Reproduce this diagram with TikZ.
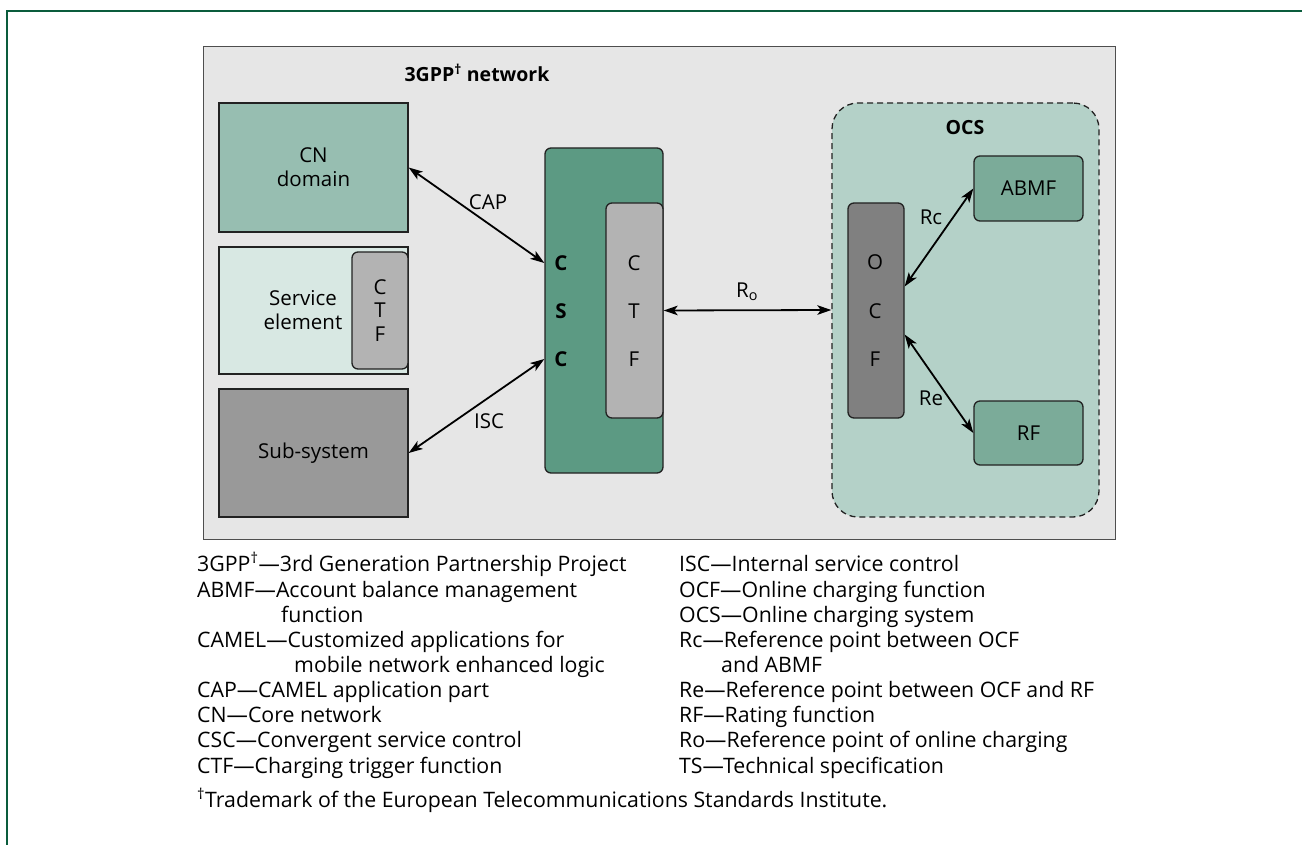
\documentclass[tikz,border=0pt]{standalone}
\usepackage{fontspec}
\setmainfont{Open Sans}
\usetikzlibrary{arrows.meta}
\definecolor{framegreen}{HTML}{0A5C3C}
\definecolor{panelgray}{HTML}{E6E6E6}
\definecolor{cnfill}{HTML}{97BEB1}
\definecolor{sefill}{HTML}{D8E8E3}
\definecolor{ctffill}{HTML}{B3B3B3}
\definecolor{subfill}{HTML}{999999}
\definecolor{cscfill}{HTML}{5C9A83}
\definecolor{ocsfill}{HTML}{B4D1C8}
\definecolor{ocffill}{HTML}{808080}
\definecolor{fnfill}{HTML}{7BAB99}
\definecolor{edge}{HTML}{222222}
\newcommand{\labfont}{\fontsize{20.5}{24}\selectfont}
\newcommand{\headfont}{\fontsize{19.5}{24}\selectfont\bfseries}
\newcommand{\legfont}{\fontsize{21.3}{25}\selectfont}
\begin{document}
\begin{tikzpicture}[x=1pt,y=-1pt,
  box/.style={draw=edge, line width=1.3pt, inner sep=0pt, font=\labfont, align=center},
  rbox/.style={box, rounded corners=6pt},
  letter/.style={font=\labfont, inner sep=0pt},
  boldletter/.style={font=\labfont\bfseries, inner sep=0pt},
  link/.style={<->, >={Stealth[length=14pt,width=9.5pt,inset=3.5pt]}, line width=1.8pt},
  lbl/.style={font=\labfont, inner sep=1pt},
  legend/.style={font=\legfont, anchor=base west, inner sep=0pt}]
\useasboundingbox (0,0) rectangle (1302,845);
\fill[white] (0,0) rectangle (1302,845);
% outer frame (top and left rules)
\draw[framegreen, line width=2.2pt] (7,845) -- (7,11) -- (1302,11);

% network panel
\node (net) [draw=edge!80, line width=1pt, fill=panelgray, minimum width=912, minimum height=492, inner sep=0pt] at (659,293) {};
\node (nethead) [font=\headfont, inner sep=0pt] at (477,73) {3GPP\textsuperscript{†} network};

% left column of elements
\node (cn) [box, fill=cnfill, minimum width=189, minimum height=129] at (313.5,167.5) {CN\\domain};
\node (se) [box, fill=sefill, minimum width=189, minimum height=127] at (313.5,310.5) {};
\node (setext) [lbl, align=center] at (303,310) {Service\\element};
\node (sectf) [rbox, fill=ctffill, minimum width=56, minimum height=117] at (380,310.5) {};
\node (sec) [letter] at (380,287) {C};
\node (set) [letter] at (380,310) {T};
\node (sef) [letter] at (380,334) {F};
\node (sub) [box, fill=subfill, minimum width=189, minimum height=128] at (313.5,453) {Sub-system};

% convergent service control
\node (csc) [rbox, fill=cscfill, minimum width=118, minimum height=325] at (604,310.5) {};
\node (csc1) [boldletter] at (561,263) {C};
\node (csc2) [boldletter] at (561,311) {S};
\node (csc3) [boldletter] at (561,359) {C};
\node (ctf) [rbox, fill=ctffill, minimum width=57, minimum height=215] at (634.5,310.5) {};
\node (ctf1) [letter] at (634,263) {C};
\node (ctf2) [letter] at (634,311) {T};
\node (ctf3) [letter] at (634,359) {F};

% online charging system
\node (ocs) [draw=edge, line width=1.3pt, dash pattern=on 6pt off 4pt, fill=ocsfill, rounded corners=26pt, minimum width=267, minimum height=414, inner sep=0pt] at (965.5,310) {};
\node (ocshead) [font=\headfont, inner sep=0pt] at (965,128) {OCS};
\node (ocf) [rbox, fill=ocffill, minimum width=56, minimum height=215] at (876,310.5) {};
\node (ocf1) [letter] at (875,262) {O};
\node (ocf2) [letter] at (875,311) {C};
\node (ocf3) [letter] at (875,359) {F};
\node (abmf) [rbox, fill=fnfill, minimum width=109, minimum height=65] at (1028.5,188.5) {ABMF};
\node (rf) [rbox, fill=fnfill, minimum width=109, minimum height=64] at (1028.5,433) {RF};

% reference points
\draw[link] (cn.east) -- (csc.west |- csc1);
\draw[link] (sub.east) -- (csc.west |- csc3);
\draw[link] (ctf.east) -- (ocs.west);
\draw[link] ([yshift=24pt]ocf.east) -- (abmf.west);
\draw[link] ([yshift=-24pt]ocf.east) -- (rf.west);
\node (cap) [lbl] at (488,202) {CAP};
\node (isc) [lbl] at (489,421) {ISC};
\node (ro) [lbl] at (747,292) {R\textsubscript{o}};
\node (rc) [lbl] at (931,217) {Rc};
\node (re) [lbl] at (931,398) {Re};

% abbreviations
\node (l1) [legend] at (197,571) {3GPP\textsuperscript{†}—3rd Generation Partnership Project};
\node (l2) [legend] at (197,597) {ABMF—Account balance management};
\node (l3) [legend] at (281,622) {function};
\node (l4) [legend] at (197,647) {CAMEL—Customized applications for};
\node (l5) [legend] at (294,672) {mobile network enhanced logic};
\node (l6) [legend] at (197,697) {CAP—CAMEL application part};
\node (l7) [legend] at (197,722) {CN—Core network};
\node (l8) [legend] at (197,747) {CSC—Convergent service control};
\node (l9) [legend] at (197,773) {CTF—Charging trigger function};
\node (r1) [legend] at (679,571) {ISC—Internal service control};
\node (r2) [legend] at (679,597) {OCF—Online charging function};
\node (r3) [legend] at (679,622) {OCS—Online charging system};
\node (r4) [legend] at (679,647) {Rc—Reference point between OCF};
\node (r5) [legend] at (721,672) {and ABMF};
\node (r6) [legend] at (679,697) {Re—Reference point between OCF and RF};
\node (r7) [legend] at (679,722) {RF—Rating function};
\node (r8) [legend] at (679,747) {Ro—Reference point of online charging};
\node (r9) [legend] at (679,773) {TS—Technical specification};
\node (foot) [legend] at (197,807) {\textsuperscript{†}Trademark of the European Telecommunications Standards Institute.};
\end{tikzpicture}
\end{document}
